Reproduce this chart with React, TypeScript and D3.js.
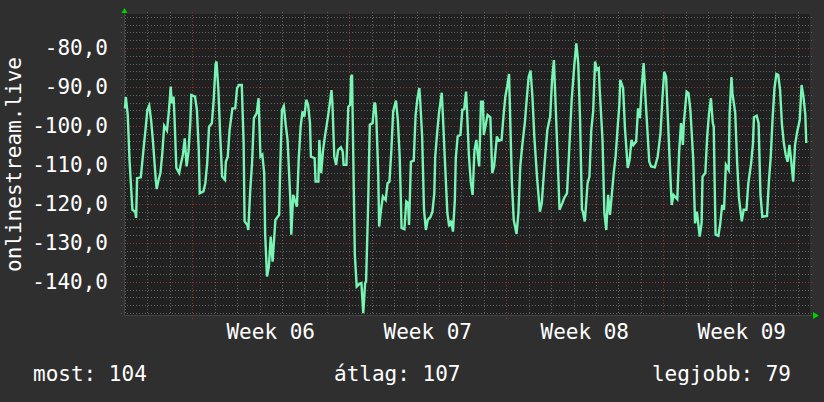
import { useEffect, useRef } from 'react';
import * as d3 from 'd3';

// hours since the left edge of the graph, and the value read at that moment
const hours = [
  1, 2, 4, 6, 9, 12, 13, 14, 18, 21, 23, 25, 27, 29, 31, 34, 35, 37, 39, 41, 43, 46, 48, 50, 51, 53, 54, 56, 59, 61,
  63, 65, 67, 69, 71, 72, 76, 78, 80, 81, 85, 87, 89, 91, 94, 96, 98, 99, 101, 103, 105, 108, 109, 111, 113, 116, 119, 121,
  123, 126, 128, 129, 132, 133, 135, 137, 139, 142, 144, 146, 148, 150, 151, 153, 155, 157, 159, 162, 166, 167, 169, 171,
  173, 175, 178, 179, 181, 185, 187, 189, 191, 193, 195, 197, 199, 200, 204, 205, 208, 209, 211, 213, 215, 218, 220, 222,
  223, 225, 227, 229, 232, 234, 235, 238, 240, 242, 243, 244,
  246, 247, 249, 252, 254, 256, 258, 259, 261, 263, 266, 268, 269, 270, 272, 273, 275, 277, 280, 282, 284, 286, 288, 291,
  293, 295, 297, 300, 302, 304, 305, 307, 310, 312, 314, 316, 317, 319, 321, 323, 325, 328, 330, 332, 333, 335, 337, 340,
  341, 343, 346, 348, 350, 352, 354, 355, 357, 360, 362, 364, 366, 367, 369,
  371, 373, 375, 377, 378, 380, 382, 384, 385, 387, 389, 392, 394, 396, 399, 401, 404, 406, 408, 410, 412, 413, 415, 417,
  420, 422, 424, 426, 429, 431, 433, 435, 437, 439, 442, 445, 447, 450, 453, 456, 458, 460, 461, 464, 466, 469, 471, 474,
  476, 479, 482, 484, 486, 488, 490, 491, 493,
  494, 496, 498, 500, 502, 504, 506, 508, 509, 512, 514, 516, 518, 520, 524, 526, 528, 530, 531, 534, 536, 539, 541, 543,
  545, 548, 550, 552, 554, 556, 558, 560, 562, 564, 568, 571, 574, 576, 578, 580, 582, 584, 586, 588, 592, 594, 596, 598,
  599, 602, 604, 606, 609, 611, 613, 616,
  618, 619, 622, 624, 626, 628, 630, 631, 632, 633, 636, 638, 640, 642, 644, 647, 648, 650, 651, 654, 656, 658, 661, 663,
  666, 668, 671, 673, 674, 677, 679, 681, 683, 688, 690, 692, 694, 696, 698, 700, 702, 704, 706, 708, 710, 712, 714, 716,
  718, 720, 723, 725, 727, 729, 730,
];

const values = [
  -95.5, -92.6, -97.2, -109.2, -121.5, -122.0, -123.6, -113.4, -113.2, -105.7, -101.0, -95.9, -94.8, -98.5, -104.0,
  -113.8, -116.2, -113.8, -112.1, -107.0, -100.0, -101.2, -96.3, -89.9, -94.2, -92.5, -97.6, -110.8, -112.1, -109.6,
  -107.4, -103.2, -110.4, -106.6, -98.9, -92.1, -92.5, -95.9, -106.2, -117.3, -116.8, -114.7, -109.6, -100.2, -99.3,
  -93.3, -84.1, -83.5, -90.8, -102.7, -113.0, -113.8, -109.2, -107.9, -101.0, -95.5, -95.5, -90.3,
  -89.5, -89.5, -104.4, -124.5, -125.4, -126.7, -116.8, -109.6, -98.0, -96.7, -92.9, -107.9, -107.4, -112.1, -127.5,
  -138.6, -136.1, -128.4, -134.8, -124.1, -122.8, -112.1, -95.9, -94.9, -99.7, -103.6, -119.0, -127.9, -117.7, -120.7,
  -108.3, -100.2, -96.3, -97.6, -93.3, -94.6, -99.3, -107.9, -108.3, -114.3, -114.3, -103.6, -112.1, -106.2, -102.7,
  -98.0, -94.6, -90.8, -94.2, -107.9, -110.0, -106.2, -105.5, -106.6, -110.0, -110.0, -95.1, -94.6, -87.4, -86.9,
  -118.5, -133.1, -141.2, -140.5, -140.3, -148.0, -140.3, -139.9, -122.4, -99.7, -99.3, -94.0, -94.6, -98.0, -112.1,
  -125.8, -121.5, -118.1, -119.0, -114.7, -114.3, -106.6, -96.3, -93.5, -98.5, -107.9, -126.2, -126.5, -119.4, -119.8,
  -125.4, -109.2, -108.9, -97.2, -92.9, -90.3, -93.8, -102.7, -121.5, -126.7, -124.1, -123.3, -122.0, -117.3, -107.9,
  -101.9, -96.7, -91.5, -96.3, -107.0, -122.4, -125.8, -124.3, -127.1, -119.0, -108.3, -102.7, -102.3, -95.9, -95.7,
  -91.2, -95.9, -107.4,
  -114.3, -117.7, -106.2, -103.6, -106.2, -110.4, -93.8, -93.8, -102.3, -99.7, -97.2, -97.8, -112.1, -110.4, -102.7,
  -103.8, -103.6, -97.6, -92.5, -89.9, -86.7, -95.9, -114.3, -124.1, -127.7, -122.4, -110.4, -105.3, -98.9, -92.9,
  -87.4, -85.8, -92.5, -102.7, -113.4, -122.0, -119.8, -109.6, -101.0, -97.6, -88.2, -83.1, -89.5, -108.3, -121.5,
  -119.8, -118.5, -117.3, -107.9, -93.3, -83.9, -78.8, -83.9, -98.5, -121.5, -122.0, -124.5,
  -121.5, -114.7, -113.0, -101.0, -96.3, -83.5, -85.6, -85.2, -90.8, -103.6, -122.4, -126.7, -117.7, -122.8, -112.1,
  -107.9, -101.0, -94.6, -88.2, -90.3, -100.6, -110.8, -108.7, -103.6, -104.9, -104.0, -95.5, -98.0, -89.9, -83.9,
  -92.9, -101.0, -109.2, -110.4, -110.6, -107.9, -101.9, -93.3, -86.1, -87.4, -98.5, -109.6, -120.3, -117.7, -118.8,
  -106.6, -99.3, -104.9, -99.3, -91.2, -91.6, -95.9, -108.3, -125.0, -122.0, -128.4,
  -125.0, -113.0, -112.1, -102.7, -96.7, -92.9, -99.3, -100.2, -114.7, -127.9, -128.2, -125.0, -120.3, -121.5, -110.0,
  -111.3, -96.7, -87.5, -91.6, -96.7, -109.2, -118.5, -124.5, -121.5, -121.5, -114.7, -109.6, -104.4, -97.8, -97.4,
  -99.3, -117.7, -123.3, -123.1, -114.3, -107.9, -98.0, -90.3, -86.7, -86.9, -90.8, -99.7, -104.4, -107.4, -109.2,
  -104.9, -109.2, -114.3, -104.9, -101.9, -98.5, -89.5, -92.5, -97.2, -104.4,
];

const yTicks = [-140, -130, -120, -110, -100, -90, -80];
const yTitle = 'onlinestream.live';
const legendLabels = ['most', 'átlag', 'legjobb'];
const legendValues = [104, 107, 79];

const W = 824;
const H = 402;
const FONT = '"DejaVu Sans Mono", monospace';

export default function App() {
  const svgRef = useRef<SVGSVGElement>(null);

  useEffect(() => {
    document.body.style.margin = '0';
    if (!svgRef.current) return;
    const svg = d3.select(svgRef.current);
    svg.selectAll('*').remove();

    const left = 124;
    const right = 810;
    const top = 14;
    const bottom = 315;

    const t0 = Date.UTC(2021, 1, 4, 23);
    const t1 = t0 + 734 * 3600e3;
    const x = d3.scaleUtc().domain([t0, t1]).range([left, right]);
    const y = d3.scaleLinear().domain([-148.5, -71.3]).range([bottom, top]);

    svg.append('rect').attr('width', W).attr('height', H).attr('fill', '#2f2f2f');
    svg
      .append('rect')
      .attr('x', left)
      .attr('y', top)
      .attr('width', right - left)
      .attr('height', bottom - top)
      .attr('fill', '#212121');

    const grid = svg.append('g').attr('shape-rendering', 'crispEdges');

    // horizontal grid: minor every 2, major every 10
    const minor = d3.range(-148, -71, 2);
    grid
      .selectAll('line.hm')
      .data(minor)
      .join('line')
      .attr('x1', left - 3)
      .attr('x2', right + 2)
      .attr('y1', (d) => Math.round(y(d)) + 0.5)
      .attr('y2', (d) => Math.round(y(d)) + 0.5)
      .attr('stroke', (d) => (d % 10 === 0 ? '#8a3434' : '#626262'))
      .attr('stroke-dasharray', '1,2');

    // vertical grid: days, weeks in red
    const days = d3.utcDay.range(new Date(t0), new Date(t1));
    grid
      .selectAll('line.vd')
      .data(days)
      .join('line')
      .attr('x1', (d) => Math.round(x(d)) + 0.5)
      .attr('x2', (d) => Math.round(x(d)) + 0.5)
      .attr('y1', top - 2)
      .attr('y2', (d) => (d.getUTCDay() === 1 ? bottom + 4 : bottom + 2))
      .attr('stroke', (d) => (d.getUTCDay() === 1 ? '#8a3434' : '#626262'))
      .attr('stroke-dasharray', '1,2');

    // axis lines
    grid
      .append('line')
      .attr('x1', left)
      .attr('x2', right + 2)
      .attr('y1', bottom + 0.5)
      .attr('y2', bottom + 0.5)
      .attr('stroke', '#444');
    grid
      .append('line')
      .attr('x1', left + 0.5)
      .attr('x2', left + 0.5)
      .attr('y1', top - 2)
      .attr('y2', bottom)
      .attr('stroke', '#444');

    // arrows
    svg
      .append('path')
      .attr('d', `M${left - 2.5},${top - 1}L${left + 3.5},${top - 1}L${left + 0.5},${top - 6}Z`)
      .attr('fill', '#00d000');
    svg
      .append('path')
      .attr('d', `M${right + 3},${bottom - 3}L${right + 3},${bottom + 4}L${right + 9},${bottom + 0.5}Z`)
      .attr('fill', '#00d000');

    // y labels
    svg
      .append('g')
      .selectAll('text')
      .data(yTicks)
      .join('text')
      .attr('x', 108)
      .attr('y', (d) => y(d))
      .attr('dy', '0.36em')
      .attr('text-anchor', 'end')
      .attr('fill', '#fff')
      .attr('font-family', FONT)
      .attr('font-size', 21)
      .text((d) => d3.format('.1f')(d).replace('.', ',').replace('−', '-'));

    svg
      .append('text')
      .attr('transform', `translate(21,${(top + bottom) / 2}) rotate(-90)`)
      .attr('text-anchor', 'middle')
      .attr('fill', '#fff')
      .attr('font-family', FONT)
      .attr('font-size', 21)
      .text(yTitle);

    // week labels centered in each week
    const weeks = d3.utcMonday.range(new Date(t0 - 7 * 864e5), new Date(t1));
    const fmt = d3.utcFormat('Week %V');
    svg
      .append('g')
      .selectAll('text')
      .data(weeks.filter((d) => {
        const c = x(new Date(+d + 3.5 * 864e5));
        return c > left + 40 && c < right;
      }))
      .join('text')
      .attr('x', (d) => x(new Date(+d + 3.5 * 864e5)))
      .attr('y', 339)
      .attr('text-anchor', 'middle')
      .attr('fill', '#fff')
      .attr('font-family', FONT)
      .attr('font-size', 21)
      .text((d) => fmt(d));

    // data line
    const pts = d3.zip(hours, values).map(([h, v]) => ({ t: new Date(t0 + h * 3600e3), v }));
    const line = d3
      .line<{ t: Date; v: number }>()
      .x((d) => x(d.t))
      .y((d) => y(d.v));
    svg
      .append('path')
      .datum(pts)
      .attr('d', line)
      .attr('fill', 'none')
      .attr('stroke', '#78f4b4')
      .attr('stroke-width', 2.4);

    // legend
    const legX = [33, 334, 791];
    const anchors = ['start', 'start', 'end'];
    svg
      .append('g')
      .selectAll('text')
      .data(legendLabels)
      .join('text')
      .attr('x', (_, i) => legX[i])
      .attr('y', 381)
      .attr('text-anchor', (_, i) => anchors[i])
      .attr('fill', '#fff')
      .attr('font-family', FONT)
      .attr('font-size', 21)
      .text((d, i) => `${d}: ${legendValues[i]}`);
  }, []);

  return <svg ref={svgRef} width={W} height={H} style={{ display: 'block' }} />;
}
